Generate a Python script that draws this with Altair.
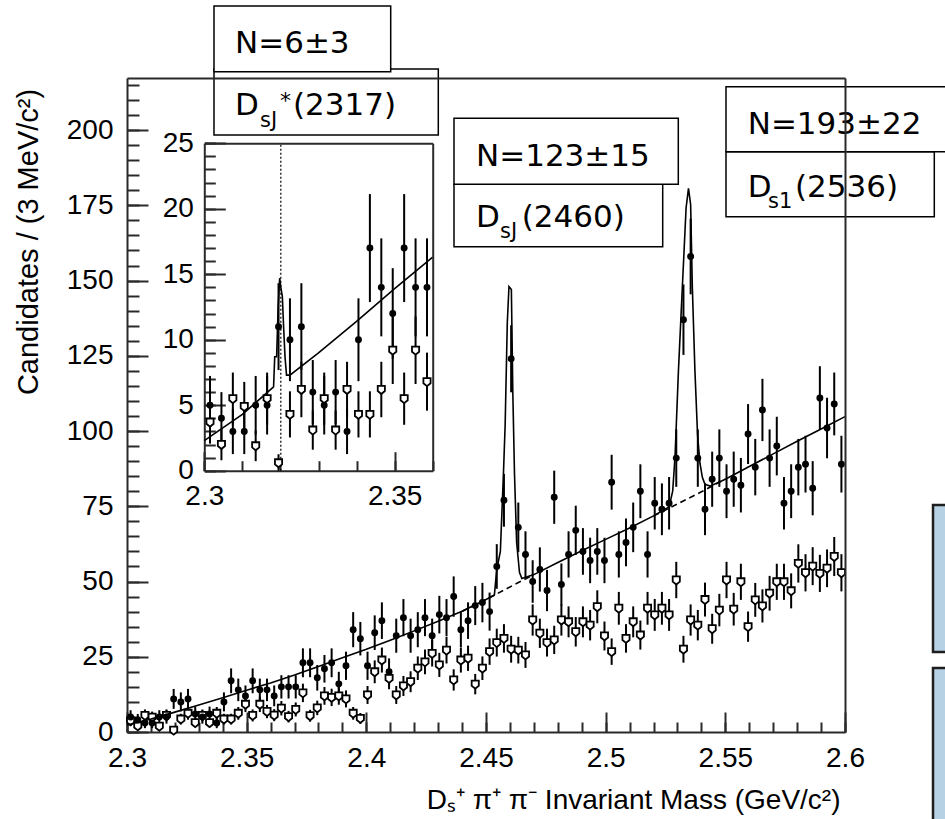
import altair as alt
import pandas as pd

# ---------------- data ----------------
BIN_LO = 2.300          # GeV/c^2, start of first bin
BIN_W = 0.003           # 3 MeV bins

# D_s pi+ pi- candidates (filled points)
signal_counts = [
    5, 4, 3, 3, 5, 5, 11, 10, 11, 6, 5, 6, 3, 10, 17, 14, 12, 17, 14, 14,
    12, 15, 15, 15, 23, 23, 18, 21, 23, 16, 22, 34, 31, 22, 33, 37, 20, 32, 38, 32,
    34, 38, 32, 39, 38, 45, 34, 37,
    42, 43, 40, 55, 77, 124, 68, 59, 50, 54, 47, 78, 49, 59, 67, 60, 57, 60, 57, 83,
    59, 63, 68, 80, 59, 76, 74, 76, 91, 137, 158, 91, 74, 84, 91, 80, 84, 82, 99, 88,
    107, 91, 95, 76, 80, 88, 89, 81, 111, 101, 109, 89,
]
# D_s sideband (open points)
sideband_counts = [
    3.7, 2.0, 5.5, 4.9, 1.9, 5.5, 0.6, 4.3, 6.2, 3.1, 5.5, 3.1, 6.2, 4.3, 4.3, 6.2, 9.2, 5.5, 9.2, 6.8,
    5.6, 7.9, 5.1, 7.5, 13.0, 5.4, 8.0, 12.0, 11.5, 12.0, 11.0, 6.2, 4.5, 12.3, 20.0, 23.9, 17.8, 12.3, 15.3, 16.7,
    21.2,
    23.3, 26.1, 22.3, 27.2, 17.3, 23.9, 24.5, 15.9, 21.2, 26.7, 29.7, 31.1, 27.5, 27.2, 25.6, 37.2, 32.8, 29.7, 30.6,
    37.2, 36.6, 33.3, 36.6, 35.5, 41.6, 31.9, 26.7, 41.1, 31.1, 36.6, 32.2, 41.1, 38.9, 41.1, 38.9, 50.5, 27.5, 37.2,
    35.5, 44.0, 34.3,
    40.5, 50.5, 40.8, 49.9, 35.0, 43.9, 41.9, 46.1, 49.9, 49.9, 46.9, 56.0, 52.9, 55.1, 52.7, 54.4, 58.3, 52.9,
]

# fitted background curve
fit_bg_mass = [2.30, 2.31, 2.32, 2.33, 2.34, 2.35, 2.36, 2.37, 2.38, 2.39, 2.40, 2.41, 2.42, 2.43, 2.44, 2.45,
               2.46, 2.47, 2.48, 2.49, 2.50, 2.51, 2.52, 2.53, 2.54, 2.55, 2.56, 2.57, 2.58, 2.59, 2.60]
fit_bg_vals = [2.3, 4.3, 6.6, 9.0, 11.4, 13.9, 16.3, 18.9, 21.8, 24.7, 27.5, 30.5, 33.6, 36.8, 40.1, 44.0,
               48.2, 52.3, 56.3, 60.2, 64.0, 67.8, 71.8, 75.8, 79.8, 84.0, 88.2, 92.4, 96.6, 100.7, 104.8]

# fitted signal peaks (total fit = background + peak)
peak2460_mass = [2.4535, 2.4545, 2.4560, 2.4573, 2.4580, 2.4589, 2.4596, 2.4606, 2.4612, 2.4619, 2.4628, 2.4640, 2.4650]
peak2460_vals = [45.5, 54.0, 60.0, 86.0, 102.0, 136.0, 148.0, 147.0, 113.0, 86.0, 63.0, 53.0, 51.0]
peak2536_mass = [2.5265, 2.5280, 2.5290, 2.5304, 2.5321, 2.5336, 2.5346, 2.5355, 2.5362, 2.5373, 2.5384, 2.5394,
                 2.5404, 2.5415, 2.5436]
peak2536_vals = [74.8, 80.0, 91.7, 119.9, 148.8, 174.1, 180.6, 175.3, 148.2, 119.9, 98.7, 89.3, 84.6, 82.3, 81.7]
peak2317_mass = [2.3182, 2.3185, 2.3190, 2.3194, 2.3198, 2.3201, 2.3205, 2.3208, 2.3212, 2.3216, 2.3225]
peak2317_vals = [6.4, 8.7, 8.7, 12.5, 14.7, 14.0, 13.3, 11.2, 8.7, 7.3, 7.3]
inset_marker_mass = [2.3201]

y_ticks_main = [0, 25, 50, 75, 100, 125, 150, 175, 200]
x_ticks_main = [2.3, 2.35, 2.4, 2.45, 2.5, 2.55, 2.6]
inset_y_ticks = [0, 5, 10, 15, 20, 25]
inset_x_ticks = [2.3, 2.35]

# ---------------- tables ----------------
mass = [round(BIN_LO + BIN_W * (i + 0.5), 4) for i in range(len(signal_counts))]
df = pd.DataFrame({"m": mass, "sig": signal_counts, "sb": sideband_counts})
df["sig_lo"] = (df.sig - df.sig ** 0.5).clip(lower=0)
df["sig_hi"] = df.sig + df.sig ** 0.5
df["sb_lo"] = (df.sb - 0.85 * df.sb ** 0.5).clip(lower=0)
df["sb_hi"] = df.sb + 0.85 * df.sb ** 0.5
dfi = df[df.m < 2.36].copy()


def merge(bm, bv, peaks):
    pts = list(zip(bm, bv))
    for pm, pv in peaks:
        lo, hi = min(pm), max(pm)
        pts = [p for p in pts if not (lo <= p[0] <= hi)]
        pts += list(zip(pm, pv))
    pts.sort()
    return pd.DataFrame(pts, columns=["m", "v"])


fit_main = merge(fit_bg_mass, fit_bg_vals, [(peak2460_mass, peak2460_vals), (peak2536_mass, peak2536_vals)])
bg_in = [(m, v) for m, v in zip(fit_bg_mass, fit_bg_vals) if m <= 2.36]
fit_inset = merge([p[0] for p in bg_in], [p[1] for p in bg_in], [(peak2317_mass, peak2317_vals)])
dash_rows = [(m, v, "a") for m, v in zip(fit_bg_mass, fit_bg_vals) if 2.44 <= m <= 2.47] + \
            [(m, v, "b") for m, v in zip(fit_bg_mass, fit_bg_vals) if 2.52 <= m <= 2.55]
dash_df = pd.DataFrame(dash_rows, columns=["m", "v", "seg"])
mark_df = pd.DataFrame({"m": inset_marker_mass})

# ---------------- geometry / style ----------------
FONT = "DejaVu Sans"
AXF = "Liberation Sans"
W, H = 718, 654
FRAME = "#2a2a2a"
LBL = 28
PENT = "M-0.8,-0.8L0.8,-0.8L0.8,0.35L0,1L-0.8,0.35Z"

xs = alt.Scale(domain=[2.3, 2.6], nice=False, zero=False)
ys = alt.Scale(domain=[0, 217.3], nice=False, zero=False)

IX0, IX1, IY0, IY1 = 77.3, 305.7, 392.7, 65.3   # inset frame inside the plot
ixs = alt.Scale(domain=[2.3, 2.36], range=[IX0, IX1], nice=False, zero=False)
iys = alt.Scale(domain=[0, 25], range=[IY0, IY1], nice=False, zero=False)


def lab_axis(orient, values, fmt, pad, offset=0, **kw):
    return alt.Axis(orient=orient, offset=offset, values=values, format=fmt, ticks=False, tickSize=0,
                    labelFont=AXF, labelFontSize=LBL, labelColor="black", labelPadding=pad,
                    labelFlush=False, labelOverlap=False, domain=True, domainColor=FRAME,
                    domainWidth=2, grid=False, **kw)


def tick_axis(orient, values, size, offset):
    return alt.Axis(orient=orient, offset=offset, values=values, labels=False, domain=False,
                    ticks=True, tickSize=size, tickWidth=2, tickColor=FRAME, grid=False, title=None)


def frame_axis(orient, offset=0):
    return alt.Axis(orient=orient, offset=offset, labels=False, ticks=False, domain=True,
                    domainColor=FRAME, domainWidth=2, grid=False, title=None, zindex=1)


x_minor = [round(2.3 + 0.01 * i, 2) for i in range(31)]
y_minor = list(range(0, 216, 5))
ix_minor = [round(2.3 + 0.01 * i, 2) for i in range(7)]
iy_minor = list(range(0, 26))

AX_X_LAB = lab_axis("bottom", x_ticks_main, ".2~f", 12,
                    title="Dₛ⁺ π⁺ π⁻ Invariant Mass (GeV/c²)", titleFont=AXF, titleFontSize=28,
                    titleFontWeight="normal", titleColor="black", titleX=713, titleY=76,
                    titleAlign="right", titleBaseline="alphabetic")
AX_Y_LAB = lab_axis("left", y_ticks_main, "d", 14,
                    title="Candidates / (3 MeV/c²)", titleFont=AXF, titleFontSize=29,
                    titleFontWeight="normal", titleColor="black", titleX=-90, titleY=163.5,
                    titleAngle=270, titleAlign="center", titleBaseline="alphabetic")

# ---------------- main plot ----------------
main = alt.layer(
    alt.Chart(dash_df).mark_line(color="black", strokeWidth=1.6, strokeDash=[6, 4]).encode(
        x=alt.X("m:Q", scale=xs, axis=None), y=alt.Y("v:Q", scale=ys, axis=None), detail="seg:N"),
    alt.Chart(df).mark_rule(color="black", strokeWidth=2).encode(
        x=alt.X("m:Q", scale=xs, axis=AX_X_LAB), y=alt.Y("sig_lo:Q", scale=ys, axis=AX_Y_LAB),
        y2="sig_hi:Q"),
    alt.Chart(df).mark_rule(color="black", strokeWidth=2).encode(
        x=alt.X("m:Q", scale=xs, axis=tick_axis("top", x_ticks_main, 20, -H)),
        y=alt.Y("sb_lo:Q", scale=ys, axis=tick_axis("right", y_ticks_main, 21, -W)),
        y2="sb_hi:Q"),
    alt.Chart(df).mark_point(shape=PENT, size=80, filled=True, fill="white", stroke="black",
                             strokeWidth=1.8, opacity=1).encode(
        x=alt.X("m:Q", scale=xs, axis=tick_axis("top", x_minor, 10, -H)),
        y=alt.Y("sb:Q", scale=ys, axis=tick_axis("right", y_minor, 12, -W))),
    alt.Chart(df).mark_point(shape="circle", size=48, filled=True, color="black", opacity=1).encode(
        x=alt.X("m:Q", scale=xs, axis=frame_axis("top")),
        y=alt.Y("sig:Q", scale=ys, axis=frame_axis("right"))),
    alt.Chart(fit_main).mark_line(color="black", strokeWidth=1.6, interpolate="linear").encode(
        x=alt.X("m:Q", scale=xs, axis=None), y=alt.Y("v:Q", scale=ys, axis=None)),
).resolve_axis(x="independent", y="independent")

# ---------------- inset ----------------
inset = alt.layer(
    alt.Chart(mark_df).mark_rule(color="black", strokeWidth=1.2, strokeDash=[2, 2]).encode(
        x=alt.X("m:Q", scale=ixs, axis=None),
        y=alt.YDatum(0, scale=iys, axis=None), y2=alt.Y2Datum(25)),
    alt.Chart(dfi).mark_rule(color="black", strokeWidth=2).encode(
        x=alt.X("m:Q", scale=ixs, axis=lab_axis("bottom", inset_x_ticks, ".2~f", 12, offset=-(H - IY0), title=None)),
        y=alt.Y("sig_lo:Q", scale=iys, axis=lab_axis("left", inset_y_ticks, "d", 11, offset=-IX0, title=None)),
        y2="sig_hi:Q"),
    alt.Chart(dfi).mark_rule(color="black", strokeWidth=2).encode(
        x=alt.X("m:Q", scale=ixs, axis=tick_axis("top", inset_x_ticks, 19, -IY0)),
        y=alt.Y("sb_lo:Q", scale=iys, axis=tick_axis("right", inset_y_ticks, 21, -(W - IX0))),
        y2="sb_hi:Q"),
    alt.Chart(dfi).mark_point(shape=PENT, size=80, filled=True, fill="white", stroke="black",
                              strokeWidth=1.8, opacity=1).encode(
        x=alt.X("m:Q", scale=ixs, axis=tick_axis("top", ix_minor, 10, -IY0)),
        y=alt.Y("sb:Q", scale=iys, axis=tick_axis("right", iy_minor, 11, -(W - IX0)))),
    alt.Chart(dfi).mark_point(shape="circle", size=48, filled=True, color="black", opacity=1).encode(
        x=alt.X("m:Q", scale=ixs, axis=frame_axis("top", -IY1)),
        y=alt.Y("sig:Q", scale=iys, axis=frame_axis("right", -(W - IX1)))),
    alt.Chart(fit_inset).mark_line(color="black", strokeWidth=1.6, interpolate="linear").encode(
        x=alt.X("m:Q", scale=ixs, axis=None), y=alt.Y("v:Q", scale=iys, axis=None)),
).resolve_axis(x="independent", y="independent")

# ---------------- annotation boxes ----------------
ONE = pd.DataFrame({"_": [0]})


def box(x1, x2, y1, y2, fill="white", stroke="black", sw=1.5):
    return alt.Chart(ONE).mark_rect(fill=fill, stroke=stroke, strokeWidth=sw).encode(
        x=alt.value(x1), x2=alt.value(x2), y=alt.value(y1), y2=alt.value(y2))


def txt(s, x, y, size=31):
    return alt.Chart(ONE).mark_text(text=s, font=FONT, fontSize=size, align="left",
                                    baseline="alphabetic", color="black").encode(
        x=alt.value(x), y=alt.value(y))


notes = [
    box(806, 840, 427, 574, fill="#b6d0e4", stroke="#1e1e1e", sw=2.5),
    box(806, 840, 590, 760, fill="#b6d0e4", stroke="#1e1e1e", sw=2.5),
    box(87, 311.3, -9, 57), box(87, 263.7, -72, -6.3),
    box(327, 535.7, 106.3, 168.7), box(327, 551.3, 40.3, 106.3),
    box(599, 807.3, 73.7, 138.7), box(599, 840, 8.7, 73.7),
    txt("N=6±3", 108, -24.7),
    txt("D", 108, 37), txt("sJ", 133, 48.7, 21), txt("*", 153, 30, 22), txt("(2317)", 166, 37),
    txt("N=123±15", 349, 88),
    txt("D", 349, 148.7), txt("sJ", 373, 160.3, 21), txt("(2460)", 394.7, 148.7),
    txt("N=193±22", 620.7, 56),
    txt("D", 620.7, 119.3), txt("s1", 641, 130.3, 21), txt("(2536)", 668, 119.3),
]

chart = alt.layer(main, inset, *notes).resolve_scale(x="independent", y="independent").properties(
    width=W, height=H,
    autosize=alt.AutoSizeParams(type="none"),
    padding={"left": 127, "top": 78, "right": 945 - 127 - W, "bottom": 819 - 78 - H},
).configure_view(stroke=None).configure(background="white")

chart.save("out.html", embed_options={"renderer": "svg", "actions": False})
